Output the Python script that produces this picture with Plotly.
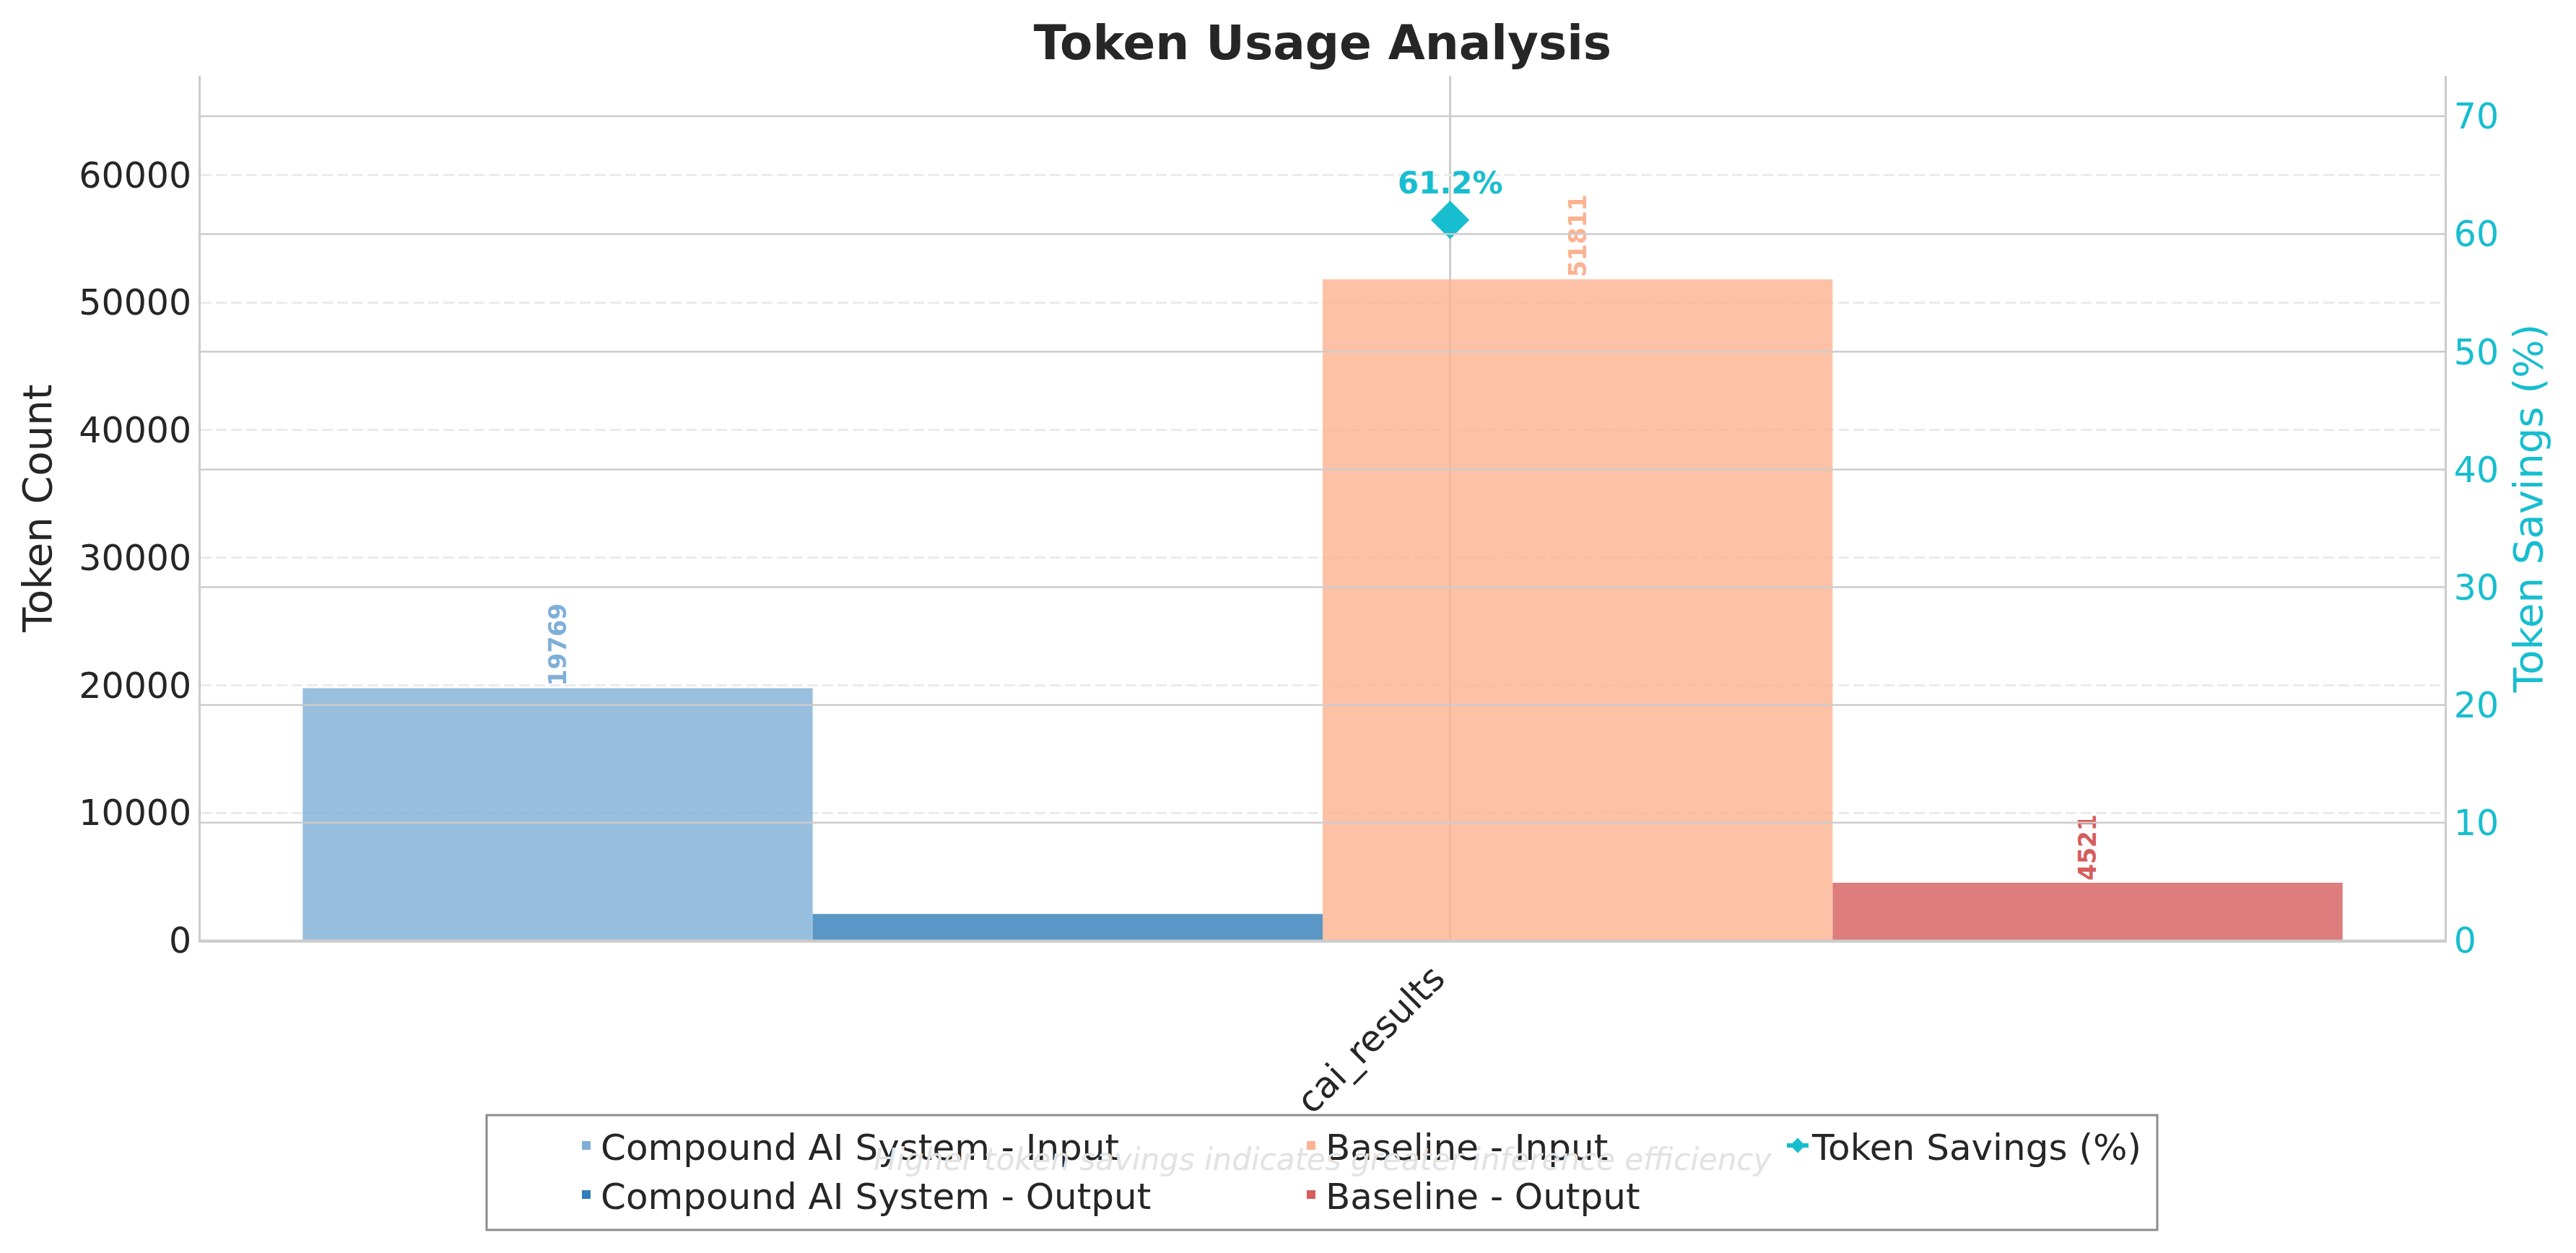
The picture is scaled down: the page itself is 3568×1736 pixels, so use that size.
import plotly.graph_objects as go

# ---------------- data ----------------
categories = ["cai_results"]
cai_input = [19769]
cai_output = [2080]
base_input = [51811]
base_output = [4521]
savings_pct = [61.2]

series_names = [
    "Compound AI System - Input",
    "Compound AI System - Output",
    "Baseline - Input",
    "Baseline - Output",
]
series_values = [cai_input, cai_output, base_input, base_output]
series_show_label = [True, False, True, True]

left_ticks = [0, 10000, 20000, 30000, 40000, 50000, 60000]
right_ticks = [0, 10, 20, 30, 40, 50, 60, 70]

# ---------------- styles ----------------
FONT = "DejaVu Sans"
TXT = "#262626"
CYAN = "#17becf"
bar_colors = ["#7fafd7", "#317db8", "#fcb290", "#d55d5d"]
bar_offsets = [-0.45, -0.25, -0.05, 0.15]
bar_width = 0.2
bar_legends = ["legend", "legend", "legend2", "legend2"]

W, H = 3568, 1736
ML, MR, MT, MB = 278, 182, 105, 433
PW = W - ML - MR
PH = H - MT - MB


def px_x(X):
    return (X - ML) / PW


def px_y(Y):
    return (H - MB - Y) / PH


fig = go.Figure()

for name, vals, col, off, show, lg in zip(series_names, series_values, bar_colors,
                                          bar_offsets, series_show_label, bar_legends):
    fig.add_trace(go.Bar(
        x=categories, y=vals, name=name,
        width=bar_width, offset=off,
        marker=dict(color=col, opacity=0.8, line=dict(width=0)),
        text=[str(v) for v in vals] if show else None,
        texttemplate="%{text}" if show else None,
        textposition="outside" if show else "none",
        textangle=-90,
        outsidetextfont=dict(family=FONT, size=33, color=col, weight="bold"),
        cliponaxis=False,
        legend=lg,
    ))

fig.add_trace(go.Scatter(
    x=categories, y=savings_pct, name="Token Savings (%)",
    yaxis="y2", mode="lines+markers+text",
    line=dict(color=CYAN, width=6),
    marker=dict(symbol="diamond", size=41, color=CYAN),
    text=[f"{v:.1f}%" for v in savings_pct],
    textposition="top center",
    textfont=dict(family=FONT, size=42, color=CYAN, weight="bold"),
    cliponaxis=False,
    legend="legend3",
))

y1_max = 67770
y2_max = 73.44

# solid right-axis grid drawn above the bars (as in the reference)
shapes = []
for t in right_ticks:
    shapes.append(dict(type="line", xref="paper", x0=0, x1=1, yref="y2", y0=t, y1=t,
                       line=dict(color="#cccccc", width=2.5), layer="above"))

# legend frame
shapes.append(dict(type="rect", xref="paper", yref="paper",
                   x0=px_x(674), x1=px_x(2988), y0=px_y(1704), y1=px_y(1545),
                   line=dict(color="#8c8c8c", width=3),
                   fillcolor="rgba(255,255,255,0.8)", layer="above"))

leg_common = dict(orientation="v", yanchor="top", xanchor="left", y=px_y(1548),
                  bgcolor="rgba(0,0,0,0)", borderwidth=0,
                  font=dict(family=FONT, size=50, color=TXT), traceorder="normal")

fig.update_layout(
    width=W, height=H,
    margin=dict(l=ML, r=MR, t=MT, b=MB, autoexpand=False),
    paper_bgcolor="white", plot_bgcolor="white",
    font=dict(family=FONT, color=TXT, size=50),
    barmode="overlay",
    title=dict(text="Token Usage Analysis", x=0.5, xref="paper", xanchor="center",
               y=1 - 59 / H, yref="container", yanchor="middle",
               font=dict(family=FONT, size=66, color=TXT, weight="bold")),
    xaxis=dict(type="category", range=[-0.49, 0.39],
               showgrid=True, gridcolor="#cccccc", gridwidth=2.5,
               showline=True, linecolor="#cccccc", linewidth=3,
               ticks="", tickangle=-45, ticklabelshift=-22,
               tickfont=dict(family=FONT, size=50, color=TXT)),
    yaxis=dict(range=[0, y1_max], tickvals=left_ticks, tickformat="d",
               showgrid=True, gridcolor="#ebebeb", gridwidth=2.5, griddash="15px,6px",
               zeroline=False, showline=True, linecolor="#cccccc", linewidth=3,
               ticks="", tickfont=dict(family=FONT, size=49, color=TXT),
               title=dict(text="Token Count", font=dict(family=FONT, size=56, color=TXT),
                          standoff=20)),
    yaxis2=dict(range=[0, y2_max], tickvals=right_ticks, overlaying="y", side="right",
                showgrid=False, zeroline=False, showline=True, linecolor="#cccccc",
                linewidth=3, ticks="",
                tickfont=dict(family=FONT, size=49, color=CYAN),
                title=dict(text="Token Savings (%)",
                           font=dict(family=FONT, size=56, color=CYAN), standoff=22)),
    shapes=shapes,
    legend=dict(x=px_x(792), **leg_common),
    legend2=dict(x=px_x(1796), **leg_common),
    legend3=dict(x=px_x(2470), **leg_common),
    annotations=[dict(text="Higher token savings indicates greater inference efficiency",
                      xref="paper", yref="paper", x=0.5, y=px_y(1607),
                      xanchor="center", yanchor="middle", showarrow=False,
                      font=dict(family=FONT, size=42, color="#e2e2e2", style="italic"))],
)

fig.write_html("out.html", config={"displayModeBar": False},
               post_script="document.body.style.margin='0';")
